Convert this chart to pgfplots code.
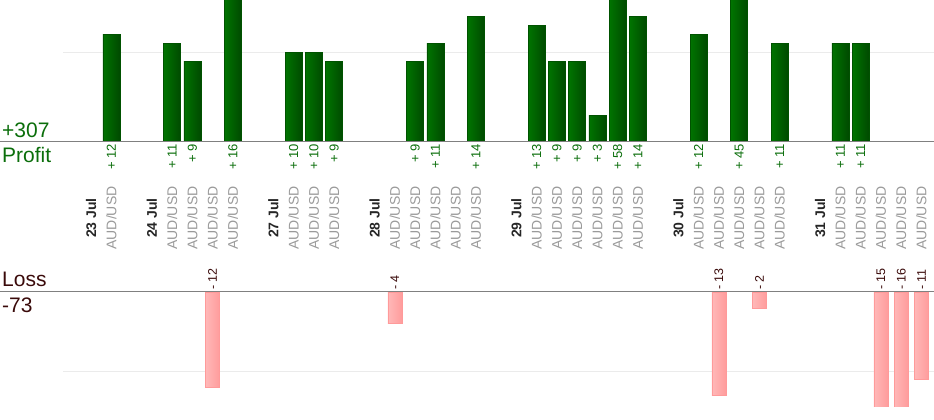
\documentclass[border=0pt]{standalone}
\usepackage{fontspec}
\setmainfont{Liberation Sans}
\usepackage{pgfplots}
\pgfplotsset{compat=1.18}
\usepackage{pgfplotstable}
\definecolor{gtext}{HTML}{0B6E0B}
\definecolor{gbarL}{HTML}{007400}
\definecolor{gbarR}{HTML}{004A00}
\definecolor{gedge}{HTML}{005200}
\definecolor{pL}{HTML}{FFB8B8}
\definecolor{pR}{HTML}{FF9C9C}
\definecolor{pedge}{HTML}{FF9A9A}
\definecolor{ltext}{HTML}{3A0A0A}
\definecolor{axgray}{HTML}{808080}
\definecolor{gridc}{HTML}{EBEBEB}
\definecolor{labgray}{HTML}{9A9A9A}
\newcommand\A{\textcolor{labgray}{AUD/USD}}
\newcommand\D[1]{{\color{black!85}\bfseries #1}}

\pgfplotstableread{
x v
1 12
4 11
5 9
7 16
10 10
11 10
12 9
16 9
17 11
19 14
22 13
23 9
24 9
25 3
26 58
27 14
30 12
32 45
34 11
37 11
38 11
}\profit

\pgfplotstableread{
x v
6 12
15 4
31 13
33 2
39 15
40 16
41 11
}\loss

\pgfplotsset{
  common/.style={
    anchor=south west, width=871pt, scale only axis,
    xmin=-1.385, xmax=41.62,
  },
}

\begin{document}
\begin{tikzpicture}
\useasboundingbox (0,0) rectangle (934pt,420pt);
% ---------- profit axis
\begin{axis}[common,
  at={(63pt,278pt)}, height=142pt,
  ymin=0, ymax=15.78,
  axis line style={draw=none}, tick style={draw=none},
  ytick={10}, yticklabels={}, ymajorgrids, grid style={gridc, line width=0.8pt},
  xtick={0,1,3,4,5,6,7,9,10,11,12,14,15,16,17,18,19,21,22,23,24,25,26,27,29,30,31,32,33,34,36,37,38,39,40,41},
  xticklabels={\D{23 Jul},\A,\D{24 Jul},\A,\A,\A,\A,\D{27 Jul},\A,\A,\A,\D{28 Jul},\A,\A,\A,\A,\A,\D{29 Jul},\A,\A,\A,\A,\A,\A,\D{30 Jul},\A,\A,\A,\A,\A,\D{31 Jul},\A,\A,\A,\A,\A},
  xticklabel style={yshift=-76pt, rotate=90, anchor=center, inner sep=0pt, font=\fontsize{14}{14}\selectfont},
]
\pgfplotsinvokeforeach{0,...,20}{
\addplot[ybar, bar shift=0pt, bar width=17pt, draw=gedge, line width=0.6pt, left color=gbarL, right color=gbarR,
  restrict expr to domain={\coordindex}{#1:#1}]
  table[x=x, y=v] {\profit};
}
\end{axis}
\begin{axis}[common, at={(63pt,278pt)}, height=142pt, ymin=0, ymax=15.78, hide axis, clip=false]
\addplot[draw=none, mark=none, point meta=explicit symbolic,
  nodes near coords={\fontsize{13}{13}\selectfont + \pgfplotspointmeta},
  every node near coord/.append style={rotate=90, anchor=east, inner sep=2pt, text=gtext}]
  table[x=x, y expr=0, meta=v] {\profit};
\end{axis}
% ---------- loss axis
\begin{axis}[common,
  at={(63pt,13pt)}, height=115pt,
  ymin=-14.47, ymax=0,
  axis line style={draw=none}, tick style={draw=none},
  ytick={-10}, yticklabels={}, ymajorgrids, grid style={gridc, line width=0.8pt},
  xtick=\empty,
]
\pgfplotsinvokeforeach{0,...,6}{
\addplot[ybar, bar shift=0pt, bar width=14pt, draw=pedge, line width=0.6pt, left color=pL, right color=pR,
  restrict expr to domain={\coordindex}{#1:#1}]
  table[x=x, y expr=-\thisrow{v}] {\loss};
}
\end{axis}
\begin{axis}[common, at={(63pt,13pt)}, height=115pt, ymin=-14.47, ymax=0, hide axis, clip=false]
\addplot[draw=none, mark=none, point meta=explicit symbolic,
  nodes near coords={\fontsize{12.5}{12.5}\selectfont - \pgfplotspointmeta},
  every node near coord/.append style={rotate=90, anchor=west, inner sep=2pt, text=ltext}]
  table[x=x, y expr=0, meta=v] {\loss};
\end{axis}
% ---------- base lines and side labels
\draw[axgray, line width=1pt] (0,278pt) -- (934pt,278pt);
\draw[axgray, line width=1pt] (0,128pt) -- (934pt,128pt);
\node[anchor=base west, inner sep=0pt, text=gtext, font=\fontsize{21}{21}\selectfont] at (2pt,282pt) {+307};
\node[anchor=base west, inner sep=0pt, text=gtext, font=\fontsize{21}{21}\selectfont] at (2pt,257.5pt) {Profit};
\node[anchor=base west, inner sep=0pt, text=ltext, font=\fontsize{21}{21}\selectfont] at (2pt,133pt) {Loss};
\node[anchor=base west, inner sep=0pt, text=ltext, font=\fontsize{21}{21}\selectfont] at (2pt,107pt) {-73};
\end{tikzpicture}
\end{document}
